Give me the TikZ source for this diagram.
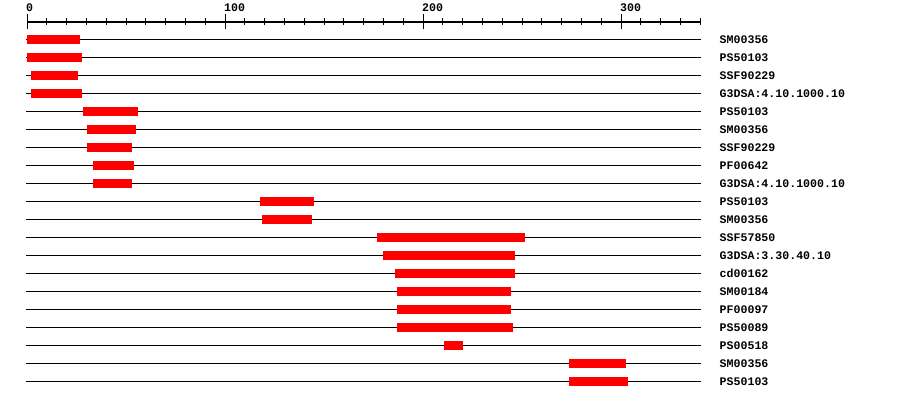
\documentclass[tikz,border=0pt]{standalone}
\usepackage{fontspec}
\setmonofont{Liberation Mono}
\tikzset{
  lbl/.style={anchor=west, inner sep=0pt, font=\ttfamily\bfseries\fontsize{11.6}{12}\selectfont},
  hit/.style={fill=red, draw=none},
  track/.style={line width=1pt, black}
}
\begin{document}
\begin{tikzpicture}[x=1pt, y=-1pt]
  \useasboundingbox (0,0) rectangle (900,400);
  % Scale
  \draw[line width=1.5pt] (26.5,22) -- (701,22);
  \foreach \k in {0,...,34}
    \draw[line width=1pt] ({27+19.8*\k},18) -- ({27+19.8*\k},25);
  \foreach \k/\v in {0/0,1/100,2/200,3/300} {
    \draw[line width=1pt] ({27+198*\k},14) -- ({27+198*\k},29);
    \node[lbl] (tick\v) at ({26+198*\k},8) {\v};
  }
  % Domain rows
  \foreach \a/\b/\name [count=\i from 0] in {
      27/80/SM00356, 27/82/PS50103, 31/78/SSF90229, 31/82/G3DSA:4.10.1000.10,
      83/138/PS50103, 87/136/SM00356, 87/132/SSF90229, 93/134/PF00642,
      93/132/G3DSA:4.10.1000.10, 260/314/PS50103, 262/312/SM00356,
      377/525/SSF57850, 383/515/G3DSA:3.30.40.10, 395/515/cd00162,
      397/511/SM00184, 397/511/PF00097, 397/513/PS50089, 444/463/PS00518,
      569/626/SM00356, 569/628/PS50103} {
    \draw[track] (26,{39.3+18*\i}) -- (701,{39.3+18*\i});
    \fill[hit] (\a,{34.9+18*\i}) rectangle (\b,{43.7+18*\i});
    \node[lbl] (row\i) at (719.5,{39.3+18*\i}) {\name};
  }
\end{tikzpicture}
\end{document}
